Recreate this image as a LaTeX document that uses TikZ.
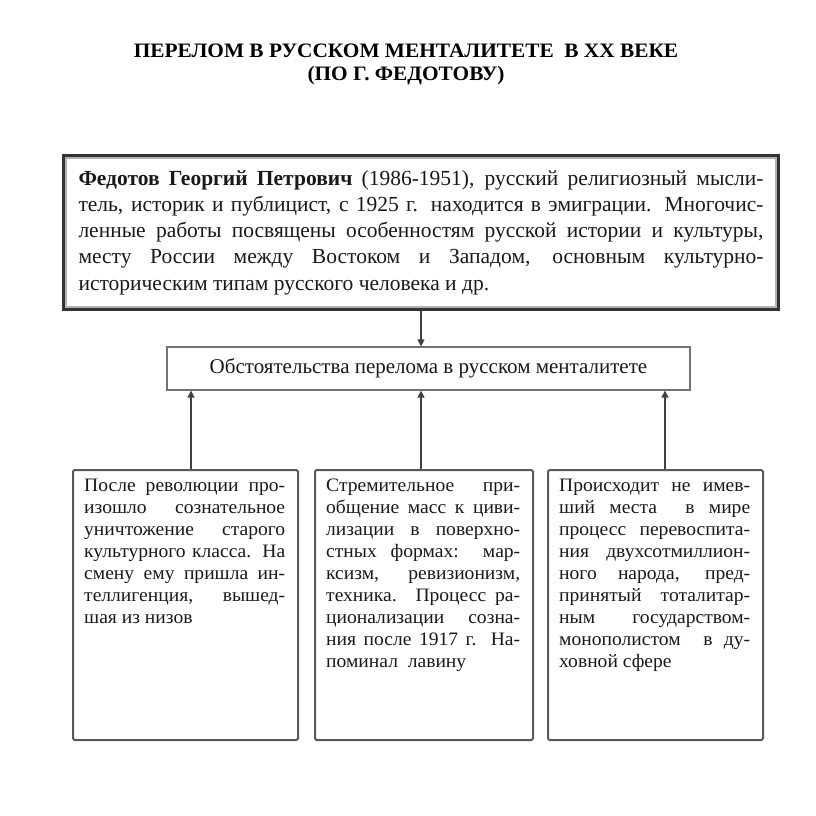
\documentclass[tikz,border=0pt]{standalone}
\usepackage{fontspec}
\setmainfont{Liberation Serif}
\newfontfamily\lowfont[FakeStretch=1.03]{Liberation Serif}
\newfontfamily\titlefont[FakeStretch=1.04]{Liberation Serif}
\usetikzlibrary{arrows.meta}
\hyphenpenalty=10000
\tolerance=10000
\begin{document}
\begin{tikzpicture}[x=1pt,y=1pt,
  arr/.style={draw=black!75, line width=1.2pt, -{Triangle[length=7pt,width=7pt]}},
  lowbox/.style={draw=black!65, line width=2pt, rounded corners=1.5pt, minimum height=270pt, inner sep=0pt},
  lowtext/.style={anchor=north west, inner sep=0pt, align=justify, font=\lowfont\fontsize{19}{22}\selectfont, text=black!90},
]
\useasboundingbox[fill=white] (0,0) rectangle (816,-816);
\node[font=\titlefont\bfseries\fontsize{20.5}{23}\selectfont, align=center] (title) at (406,-64)
  {ПЕРЕЛОМ В РУССКОМ МЕНТАЛИТЕТЕ\ \ В XX ВЕКЕ\\(ПО Г. ФЕДОТОВУ)};

\node[draw=black!80, line width=4pt, minimum width=714pt, minimum height=153pt,
      text width=685pt, inner sep=0pt, align=justify,
      font=\fontsize{21.5}{26.2}\selectfont, text=black!90] (top) at (421,-232.5)
  {\textbf{Федотов Георгий Петрович} (1986-1951), русский религиозный мысли-\linebreak
   тель, историк и публицист, с 1925 г. находится в эмиграции. Многочис-\linebreak
   ленные работы посвящены особенностям русской истории и культуры,\linebreak
   месту России между Востоком и Западом, основным культурно-\linebreak
   историческим типам русского человека и др.};
\draw[gray!60, line width=2.5pt] ([shift={(4pt,-4pt)}]top.north west) rectangle ([shift={(-4pt,4pt)}]top.south east);

\node[draw=black!55, line width=1.2pt, minimum width=523pt, minimum height=43pt,
      font=\fontsize{21}{24}\selectfont, text=black!90] (mid) at (428.5,-368.5)
  {Обстоятельства перелома в русском менталитете};

\node[lowbox, minimum width=225pt] (l) at (185.5,-605) {};
\node[lowbox, minimum width=218pt] (m) at (424,-605) {};
\node[lowbox, minimum width=215pt] (r) at (655.5,-605) {};

\node[lowtext, text width=201pt] (lt) at ([shift={(12pt,-10pt)}]l.north west)
  {После революции про-\linebreak
   изошло сознательное\linebreak
   уничтожение старого\linebreak
   культурного класса. На\linebreak
   смену ему пришла ин-\linebreak
   теллигенция, вышед-\linebreak
   шая из низов};
\node[lowtext, text width=194pt] (mt) at ([shift={(12pt,-10pt)}]m.north west)
  {Стремительное при-\linebreak
   общение масс к циви-\linebreak
   лизации в поверхно-\linebreak
   стных формах: мар-\linebreak
   ксизм, ревизионизм,\linebreak
   техника. Процесс ра-\linebreak
   ционализации созна-\linebreak
   ния после 1917 г. На-\linebreak
   поминал\ \ лавину};
\node[lowtext, text width=191pt] (rt) at ([shift={(12pt,-10pt)}]r.north west)
  {Происходит не имев-\linebreak
   ший места\ \ в мире\linebreak
   процесс перевоспита-\linebreak
   ния двухсотмиллион-\linebreak
   ного народа, пред-\linebreak
   принятый тоталитар-\linebreak
   ным государством-\linebreak
   монополистом\ \ в ду-\linebreak
   ховной сфере};

\coordinate (a1) at (191,0);
\coordinate (a2) at (421,0);
\coordinate (a3) at (665,0);
\draw[arr] (top.south -| a2) -- (mid.north -| a2);
\draw[arr] (l.north -| a1) -- (mid.south -| a1);
\draw[arr] (m.north -| a2) -- (mid.south -| a2);
\draw[arr] (r.north -| a3) -- (mid.south -| a3);
\end{tikzpicture}
\end{document}
